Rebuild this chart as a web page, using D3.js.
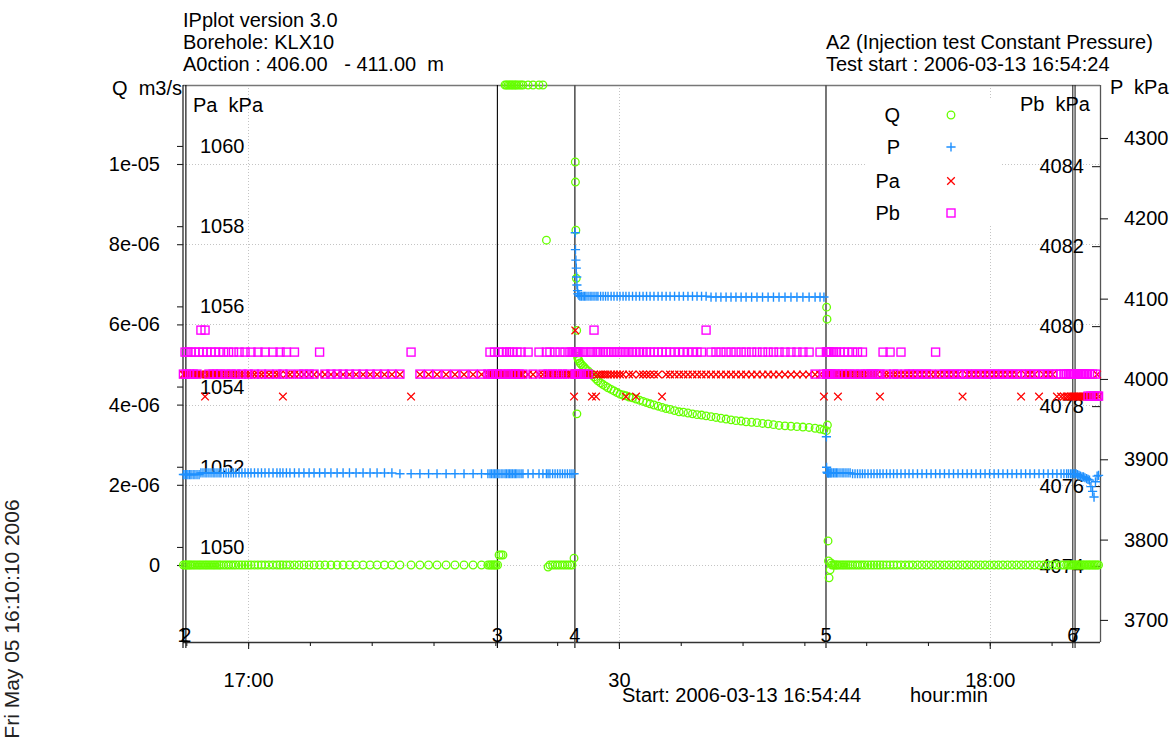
<!DOCTYPE html>
<html><head><meta charset="utf-8">
<script src="https://cdn.jsdelivr.net/npm/d3@7"></script>
<style>
body{margin:0;background:#fff}
svg{display:block}
text{white-space:pre}
</style></head><body>
<svg id="c" width="1174" height="742"></svg>
<script>
// ---------------- DATA ----------------
// sample times, seconds after 2006-03-13 16:54:44
const timeSec = [
 2,10,17,24,32,39,49,58,68,78,87,97,107,116,126,136,146,155,165,175,
 184,197,209,221,233,245,257,272,286,301,316,330,347,364,381,398,417,437,456,471,
 485,502,519,541,563,587,612,636,663,689,718,748,777,808,840,874,908,942,978,1014,
 1053,1107,1150,1192,1233,1277,1320,1364,1408,1449,1480,1490,1497,1505,1512,1519,
 1527,1534,1544,1553,1563,1570,1578,1585,1592,1599,1607,1614,1621,1631,1641,1650,1675,1699,1728,1747,
 1764,1772,1781,1794,1806,1818,1830,1842,1854,1866,1878,1888,1898,
 1904,1905,1907,1909,1911,1912,1915,1917,1922,1927,1934,1942,1949,1956,1966,1976,1985,1995,2005,2014,
 2027,2039,2051,2063,2078,2092,2107,2121,2136,2150,2165,2182,2199,2216,2233,2250,2267,2286,2306,2325,
 2345,2364,2386,2408,2429,2451,2473,2495,2517,2539,2563,2587,2611,2636,2660,2684,2709,2733,2760,2786,
 2813,2840,2866,2893,2922,2951,2980,3009,3039,3068,3092,3111,
 3123,3124,3126,3128,3131,3133,3136,3141,3145,3150,3158,3165,3172,3179,3189,3199,3208,3218,3228,3238,
 3250,3262,3274,3286,3298,3310,3325,3340,3354,3369,3383,3398,3415,3432,3449,3466,3485,3505,3524,3543,
 3565,3587,3609,3631,3653,3674,3696,3718,3740,3762,3784,3806,3827,3849,3871,3893,3915,3937,3958,3980,
 4002,4024,4046,4068,4090,4111,4133,4155,4177,4199,4221,4242,4262,4276,4289,4298,4308,4315,
 4322,4327,4335,4342,4349,4356,4364,4371,4378,4386,4393,4400,4407,4415,4422,4429,4437,4444
];
// Q flow, in 1e-6 m3/s
const qFlow = [
 0,0,0,0,0,0,0,0,0,0,0,0,0,0,0,0,0,0,0,0,
 0,0,0,0,0,0,0,0,0,0,0,0,0,0,0,0,0,0,0,0,
 0,0,0,0,0,0,0,0,0,0,0,0,0,0,0,0,0,0,0,0,
 0,0,0,0,0,0,0,0,0,0,0,0,0,0,0,0,
 0,0.25,0.25,0.25,12.5,12.5,12.5,12.5,12.5,12.5,12.5,12.5,12.5,12.5,12.5,12.5,12.5,12.5,12.5,12.5,
 8.1,-0.05,0,0,0,0,0,0,0,0,0,0,0.17,
 10.05,9.55,8.35,7.15,5.85,3.77,5.20,5.15,5.10,5.04,5.00,4.96,4.92,4.88,4.84,4.79,4.74,4.69,4.64,4.59,
 4.54,4.50,4.46,4.42,4.38,4.34,4.30,4.26,4.24,4.22,4.19,4.17,4.14,4.11,4.08,4.05,4.02,3.99,3.96,3.93,
 3.90,3.88,3.85,3.82,3.81,3.79,3.77,3.75,3.74,3.72,3.70,3.68,3.66,3.64,3.62,3.60,3.59,3.57,3.56,3.55,
 3.53,3.52,3.50,3.48,3.47,3.46,3.45,3.44,3.43,3.41,3.39,3.37,
 3.35,6.43,6.13,3.49,0.6,0.1,-0.32,-0.12,0.05,0,0,0,0,0,0,0,0,0,0,0,
 0,0,0,0,0,0,0,0,0,0,0,0,0,0,0,0,0,0,0,0,
 0,0,0,0,0,0,0,0,0,0,0,0,0,0,0,0,0,0,0,0,
 0,0,0,0,0,0,0,0,0,0,0,0,0,0,0,0,0,0,
 0,0,0,0,0,0,0,0,0,0,0,0,0,0,0,0,0,0
];
// P injection pressure, kPa
const pInj = [
 3881,3881,3881,3881,3881,3881,3881,3881,3881,3881,3883,3883,3883,3883,3883,3883,3883,3883,3883,3883,
 3883,3883,3883,3883,3883,3883,3883,3883,3883,3883,3883,3883,3883,3883,3883,3883,3883,3883,3883,3883,
 3883,3883,3883,3883,3883,3883,3883,3883,3883,3883,3883,3883,3883,3883,3883,3883,3883,3883,3883,3883,
 3882,3882,3882,3882,3882,3882,3882,3882,3882,3882,3882,3882,3882,3882,3882,3882,
 3882,3882,3882,3882,3882,3882,3882,3882,3882,3882,3882,3882,3882,3882,3882,3882,3882,3882,3882,3882,
 3882,3882,3882,3882,3882,3882,3882,3882,3882,3882,3882,3882,3882,
 4182,4161,4148,4138,4127,4117,4110,4106,4104,4103,4103,4103,4103,4103,4103,4103,4103,4103,4103,4103,
 4103,4103,4103,4103,4103,4103,4103,4103,4103,4103,4103,4103,4103,4103,4103,4103,4103,4103,4103,4103,
 4103,4103,4103,4103,4103,4103,4103,4103,4103,4103,4102,4102,4102,4102,4102,4102,4102,4102,4102,4102,
 4102,4102,4102,4102,4102,4102,4102,4102,4102,4102,4102,4102,
 3928,3890,3884,3883,3883,3883,3883,3883,3883,3883,3883,3883,3883,3883,3883,3883,3883,3883,3883,3883,
 3882,3882,3882,3882,3882,3882,3882,3882,3882,3882,3882,3882,3882,3882,3882,3882,3882,3882,3882,3882,
 3882,3882,3882,3882,3882,3882,3882,3882,3882,3882,3882,3882,3882,3882,3882,3882,3882,3882,3882,3882,
 3882,3882,3882,3882,3882,3882,3882,3882,3882,3882,3882,3882,3882,3882,3882,3882,3882,3882,
 3882,3882,3882,3881,3880,3879,3878,3878,3877,3876,3875,3874,3866,3860,3853,3872,3879,3880
];
// Pa pressure above packer, kPa
const paAbove = [
 1054.3,1054.3,1054.3,1054.3,1054.3,1054.3,1054.3,1054.3,1054.3,1054.3,1054.3,1054.3,1053.75,1054.3,1054.3,1054.3,1054.3,1054.3,1054.3,1054.3,
 1054.3,1054.3,1054.3,1054.3,1054.3,1054.3,1054.3,1054.3,1054.3,1054.3,1054.3,1054.3,1054.3,1054.3,1054.3,1054.3,1054.3,1054.3,1054.3,1054.3,
 1053.75,1054.3,1054.3,1054.3,1054.3,1054.3,1054.3,1054.3,1054.3,1054.3,1054.3,1054.3,1054.3,1054.3,1054.3,1054.3,1054.3,1054.3,1054.3,1054.3,
 1054.3,1053.75,1054.3,1054.3,1054.3,1054.3,1054.3,1054.3,1054.3,1054.3,1054.3,1054.3,1054.3,1054.3,1054.3,1054.3,
 1054.3,1054.3,1054.3,1054.3,1054.3,1054.3,1054.3,1054.3,1054.3,1054.3,1054.3,1054.3,1054.3,1054.3,1054.3,1054.3,1054.3,1054.3,1054.3,1054.3,
 1054.3,1054.3,1054.3,1054.3,1054.3,1054.3,1054.3,1054.3,1054.3,1054.3,1054.3,1054.3,1053.75,
 1055.4,1054.3,1054.3,1054.3,1054.3,1054.3,1054.3,1054.3,1054.3,1054.3,1054.3,1054.3,1054.3,1054.3,1054.3,1054.3,1053.75,1054.3,1053.75,1054.3,
 1054.3,1054.3,1054.3,1054.3,1054.3,1054.3,1054.3,1054.3,1054.3,1053.75,1054.3,1054.3,1053.75,1054.3,1054.3,1054.3,1054.3,1054.3,1054.3,1053.75,
 1054.3,1054.3,1054.3,1054.3,1054.3,1054.3,1054.3,1054.3,1054.3,1054.3,1054.3,1054.3,1054.3,1054.3,1054.3,1054.3,1054.3,1054.3,1054.3,1054.3,
 1054.3,1054.3,1054.3,1054.3,1054.3,1054.3,1054.3,1054.3,1054.3,1054.3,1054.3,1053.75,
 1054.3,1054.3,1054.3,1054.3,1054.3,1054.3,1054.3,1054.3,1054.3,1054.3,1054.3,1054.3,1054.3,1053.75,1054.3,1054.3,1054.3,1054.3,1054.3,1054.3,
 1054.3,1054.3,1054.3,1054.3,1054.3,1054.3,1054.3,1054.3,1054.3,1054.3,1053.75,1054.3,1054.3,1054.3,1054.3,1054.3,1054.3,1054.3,1054.3,1054.3,
 1054.3,1054.3,1054.3,1054.3,1054.3,1054.3,1054.3,1054.3,1054.3,1054.3,1053.75,1054.3,1054.3,1054.3,1054.3,1054.3,1054.3,1054.3,1054.3,1054.3,
 1054.3,1054.3,1054.3,1053.75,1054.3,1054.3,1054.3,1053.75,1054.3,1054.3,1054.3,1053.75,1053.75,1053.75,1053.75,1053.75,1053.75,1053.75,
 1053.75,1053.75,1053.75,1053.75,1053.75,1053.75,1053.75,1053.75,1053.75,1053.75,1053.75,1053.75,1053.75,1053.75,1053.75,1053.75,1054.3,1053.75
];
// Pb pressure below packer, kPa
const pbBelow = [
 4078.8,4079.35,4078.8,4079.35,4078.8,4079.35,4078.8,4079.35,4078.8,4079.35,4079.9,4079.35,4079.9,4079.35,4078.8,4079.35,4078.8,4079.35,4078.8,4079.35,
 4078.8,4079.35,4078.8,4079.35,4078.8,4079.35,4078.8,4079.35,4078.8,4079.35,4078.8,4079.35,4078.8,4079.35,4078.8,4079.35,4078.8,4079.35,4078.8,4079.35,
 4078.8,4079.35,4078.8,4079.35,4078.8,4078.8,4078.8,4078.8,4079.35,4078.8,4078.8,4078.8,4078.8,4078.8,4078.8,4078.8,4078.8,4078.8,4078.8,4078.8,
 4078.8,4079.35,4078.8,4078.8,4078.8,4078.8,4078.8,4078.8,4078.8,4078.8,4078.8,4079.35,4078.8,4078.8,4079.35,4078.8,
 4078.8,4079.35,4078.8,4079.35,4078.8,4079.35,4078.8,4079.35,4078.8,4079.35,4078.8,4078.8,4079.35,4078.8,4079.35,4078.8,4079.35,4078.8,4079.35,4078.8,
 4079.35,4078.8,4079.35,4078.8,4079.35,4078.8,4079.35,4078.8,4079.35,4078.8,4079.35,4079.35,4079.35,
 4078.8,4079.35,4078.8,4079.35,4078.8,4079.35,4078.8,4079.35,4078.8,4079.35,4078.8,4079.35,4078.8,4079.35,4078.8,4079.35,4079.35,4079.9,4079.35,4079.35,
 4079.35,4079.35,4079.35,4079.35,4079.35,4079.35,4079.35,4079.35,4079.35,4079.35,4079.35,4079.35,4079.35,4079.35,4079.35,4079.35,4079.35,4079.35,4079.35,4079.35,
 4079.35,4079.35,4079.35,4079.35,4079.35,4079.35,4079.35,4079.35,4079.35,4079.9,4079.35,4079.35,4079.35,4079.35,4079.35,4079.35,4079.35,4079.35,4079.35,4079.35,
 4079.35,4079.35,4079.35,4079.35,4079.35,4079.35,4079.35,4079.35,4079.35,4078.8,4079.35,4078.8,
 4079.35,4078.8,4079.35,4078.8,4079.35,4078.8,4079.35,4078.8,4079.35,4078.8,4079.35,4078.8,4079.35,4078.8,4079.35,4078.8,4079.35,4078.8,4079.35,4078.8,
 4079.35,4078.8,4079.35,4078.8,4079.35,4078.8,4078.8,4078.8,4078.8,4078.8,4078.8,4079.35,4078.8,4079.35,4078.8,4078.8,4079.35,4078.8,4078.8,4078.8,
 4078.8,4078.8,4078.8,4078.8,4079.35,4078.8,4078.8,4078.8,4078.8,4078.8,4078.8,4078.8,4078.8,4078.8,4078.8,4078.8,4078.8,4078.8,4078.8,4078.8,
 4078.8,4078.8,4078.8,4078.8,4078.8,4078.8,4078.8,4078.8,4078.8,4078.8,4078.8,4078.8,4078.8,4078.8,4078.8,4078.8,4078.8,4078.8,
 4078.8,4078.8,4078.8,4078.8,4078.8,4078.8,4078.8,4078.8,4078.8,4078.8,4078.25,4078.8,4078.25,4078.8,4078.25,4078.8,4078.25,4078.25
];
// events (seconds after start) and their labels
const eventSec = [0, 14, 1526, 1902, 3121, 4319, 4330];
const eventLabels = ["1","2","3","4","5","6","7"];
const eventColors = ["#000","#000","#000","#555","#555","#222","#222"];
// axes
const qRange = [-1.92, 11.97];          // 1e-6 m3/s
const qTicks = [0, 2, 4, 6, 8, 10];
const qTickLabels = ["0","2e-06","4e-06","6e-06","8e-06","1e-05"];
const paRange = [1047.63, 1061.52];
const paTicks = [1050, 1052, 1054, 1056, 1058, 1060];
const pRange = [3672.5, 4366];
const pTicks = [3700, 3800, 3900, 4000, 4100, 4200, 4300];
const pbRange = [4072.1, 4086.03];
const pbTicks = [4074, 4076, 4078, 4080, 4082, 4084];
const xMajorTimes = ["17:00", "17:30", "18:00"];
const xMajorLabels = ["17:00", "30", "18:00"];
const legendNames = ["Q", "P", "Pa", "Pb"];

// ---------------- CHART ----------------
const FONT = '"Liberation Sans", Arial, sans-serif';
const svg = d3.select("#c").attr("font-family", FONT).attr("font-size", 20);
const L = 183, R = 1100, T = 85, B = 642;
const t0 = new Date(2006, 2, 13, 16, 54, 44);
const tEnd = new Date(2006, 2, 13, 18, 8, 55);
const at = s => new Date(t0.getTime() + s * 1000);
const hm = str => { const [h, m] = str.split(":").map(Number); return new Date(2006, 2, 13, h, m, 0); };

const x = d3.scaleTime().domain([t0, tEnd]).range([L, R]);
const yQ = d3.scaleLinear().domain(qRange).range([B, T]).clamp(true);
const yPa = d3.scaleLinear().domain(paRange).range([B, T]);
const yP = d3.scaleLinear().domain(pRange).range([B, T]);
const yPb = d3.scaleLinear().domain(pbRange).range([B, T]);

const pts = timeSec.map((s, i) => ({t: at(s), q: qFlow[i], p: pInj[i], pa: paAbove[i], pb: pbBelow[i]}));

// grid
const grid = svg.append("g").attr("stroke", "#c4c4c4").attr("stroke-width", 1).attr("stroke-dasharray", "1,2");
grid.selectAll("line.h").data(qTicks).join("line").attr("class", "h")
  .attr("x1", L).attr("x2", R).attr("y1", d => Math.round(yQ(d)) + 0.5).attr("y2", d => Math.round(yQ(d)) + 0.5);
grid.selectAll("line.v").data(xMajorTimes).join("line").attr("class", "v")
  .attr("y1", T).attr("y2", B).attr("x1", d => Math.round(x(hm(d))) + 0.5).attr("x2", d => Math.round(x(hm(d))) + 0.5);

// frame
svg.append("line").attr("x1", L).attr("x2", R).attr("y1", T + 0.5).attr("y2", T + 0.5).attr("stroke", "#777").attr("stroke-width", 1.6);
svg.append("line").attr("x1", R + 0.5).attr("x2", R + 0.5).attr("y1", T).attr("y2", B).attr("stroke", "#555").attr("stroke-width", 1.3);
svg.append("line").attr("x1", L).attr("x2", R).attr("y1", B + 0.5).attr("y2", B + 0.5).attr("stroke", "#333").attr("stroke-width", 1.4);

// event lines
const ev = svg.append("g");
ev.selectAll("line").data(eventSec).join("line")
  .attr("x1", d => x(at(d))).attr("x2", d => x(at(d))).attr("y1", T).attr("y2", B + 6)
  .attr("stroke", (d, i) => eventColors[i]).attr("stroke-width", (d, i) => (i === 3 || i === 4) ? 1.6 : 1.1);
ev.selectAll("text").data(eventSec).join("text")
  .attr("x", d => x(at(d))).attr("y", B).attr("text-anchor", "middle").attr("fill", "#000")
  .text((d, i) => eventLabels[i]);

// axes
const axQ = svg.append("g").attr("transform", `translate(${L},0)`)
  .call(d3.axisLeft(yQ).tickValues(qTicks).tickSize(6).tickPadding(17).tickFormat((d, i) => qTickLabels[i]));
const axPa = svg.append("g").attr("transform", `translate(${L},0)`)
  .call(d3.axisLeft(yPa).tickValues(paTicks).tickSize(6).tickFormat(""));
const axP = svg.append("g").attr("transform", `translate(${R},0)`)
  .call(d3.axisRight(yP).tickValues(pTicks).tickSize(8).tickPadding(16).tickFormat(d3.format("d")));
const axPb = svg.append("g").attr("transform", `translate(${R},0)`)
  .call(d3.axisLeft(yPb).tickValues(pbTicks).tickSize(8).tickPadding(8).tickFormat(d3.format("d")));
const axXminor = svg.append("g").attr("transform", `translate(0,${B})`)
  .call(d3.axisBottom(x).ticks(d3.timeMinute.every(5)).tickSize(4).tickFormat(""));
const axXmajor = svg.append("g").attr("transform", `translate(0,${B})`)
  .call(d3.axisBottom(x).tickValues(xMajorTimes.map(hm)).tickSize(7).tickPadding(24).tickFormat((d, i) => xMajorLabels[i]));
[axQ, axPa, axP, axPb, axXminor, axXmajor].forEach(g => {
  g.attr("font-family", FONT).attr("font-size", 20);
  g.select(".domain").remove();
  g.selectAll(".tick line").attr("stroke", "#222").attr("stroke-width", 1.1);
  g.selectAll(".tick text").attr("fill", "#000");
});

// Pa labels inside plot
svg.append("g").selectAll("text").data(paTicks).join("text")
  .attr("x", 200).attr("y", d => yPa(d)).attr("dy", "0.35em").text(d => d);

// markers
const sym = {
  circle: g => g.append("circle").attr("r", 3.8).attr("fill", "none").attr("stroke", "#66ff00").attr("stroke-width", 1.3),
  plus: g => g.append("path").attr("d", "M-4.6,0H4.6M0,-4.6V4.6").attr("stroke", "#1e90ff").attr("stroke-width", 1.4),
  cross: g => g.append("path").attr("d", "M-3.8,-3.8L3.8,3.8M-3.8,3.8L3.8,-3.8").attr("stroke", "#ff0000").attr("stroke-width", 1.3),
  square: g => g.append("rect").attr("x", -4).attr("y", -4).attr("width", 8).attr("height", 8).attr("fill", "none").attr("stroke", "#ff00ff").attr("stroke-width", 1.4)
};
function series(key, yS, kind) {
  const g = svg.append("g");
  g.selectAll("g").data(pts).join("g")
    .attr("transform", d => `translate(${x(d.t)},${yS(d[key])})`)
    .each(function () { sym[kind](d3.select(this)); });
}
series("q", yQ, "circle");
series("p", yP, "plus");
series("pa", yPa, "cross");
series("pb", yPb, "square");

// legend
const lg = svg.append("g");
lg.append("rect").attr("x", 867).attr("y", 100).attr("width", 133).attr("height", 126).attr("fill", "#fff");
const legY = [115, 147, 181, 213];
const kinds = ["circle", "plus", "cross", "square"];
legendNames.forEach((n, i) => {
  lg.append("text").attr("x", 900).attr("y", legY[i]).attr("dy", "0.35em").attr("text-anchor", "end").text(n);
  const s = lg.append("g").attr("transform", `translate(951,${legY[i]})`);
  sym[kinds[i]](s);
});

// titles & axis names
const txt = (xx, yy, s, anchor) => svg.append("text").attr("x", xx).attr("y", yy).attr("text-anchor", anchor || "start").attr("fill", "#000").text(s);
txt(183, 27, "IPplot version 3.0");
txt(183, 49, "Borehole: KLX10");
txt(183, 71, "A0ction : 406.00   - 411.00  m");
txt(826, 49, "A2 (Injection test Constant Pressure)");
txt(826, 71, "Test start : 2006-03-13 16:54:24");
txt(182, 95, "Q  m3/s", "end");
txt(1110, 94, "P  kPa");
txt(193, 112, "Pa  kPa");
txt(1090, 111, "Pb  kPa", "end");
txt(622, 702, "Start: 2006-03-13 16:54:44");
txt(910, 702, "hour:min");
svg.append("text").attr("transform", "translate(19,619) rotate(-90)").attr("text-anchor", "middle")
  .attr("font-size", 21).attr("fill", "#222").text("Fri May 05 16:10:10 2006");
</script>
</body></html>
